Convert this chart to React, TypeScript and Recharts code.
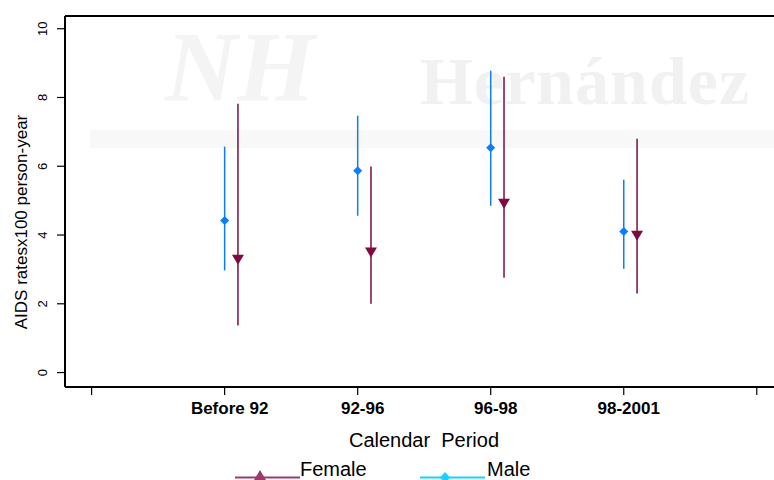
import { ScatterChart, Scatter, XAxis, YAxis, ErrorBar, ReferenceLine } from 'recharts'

const categories = ['Before 92', '92-96', '96-98', '98-2001']
const catPos = [1, 2, 3, 4]
const xTicks = [0, 1, 2, 3, 4, 5]
const yTicks = [0, 2, 4, 6, 8, 10]

const maleRate = [4.42, 5.87, 6.54, 4.1]
const maleLow = [2.97, 4.56, 4.85, 3.02]
const maleHigh = [6.57, 7.47, 8.78, 5.61]

const femaleRate = [3.28, 3.49, 4.91, 3.98]
const femaleLow = [1.37, 2.0, 2.76, 2.3]
const femaleHigh = [7.82, 5.99, 8.6, 6.8]
const femaleShift = 0.1

const MALE = '#0a7dff'
const FEMALE = '#7e0a42'
const FONT = '"Liberation Sans", Arial, sans-serif'

const maleData = catPos.map((p, i) => ({
  x: p,
  y: maleRate[i],
  err: [maleRate[i] - maleLow[i], maleHigh[i] - maleRate[i]],
}))
const femaleData = catPos.map((p, i) => ({
  x: p + femaleShift,
  y: femaleRate[i],
  err: [femaleRate[i] - femaleLow[i], femaleHigh[i] - femaleRate[i]],
}))

function Diamond(props: any) {
  const { cx, cy } = props
  const r = 4.5
  return <polygon points={`${cx},${cy - r} ${cx + r},${cy} ${cx},${cy + r} ${cx - r},${cy}`} fill={MALE} />
}

function TriDown(props: any) {
  const { cx, cy } = props
  return <polygon points={`${cx - 6},${cy - 5} ${cx + 6},${cy - 5} ${cx},${cy + 5}`} fill={FEMALE} />
}

function XTick(props: any) {
  const { x, y, payload } = props
  const idx = catPos.indexOf(payload.value)
  if (idx < 0) return null
  return (
    <text x={x + 5} y={y + 17} textAnchor="middle" fontFamily={FONT} fontWeight="bold" fontSize={17} fill="#000">
      {categories[idx]}
    </text>
  )
}

function YTick(props: any) {
  const { y, payload } = props
  return (
    <text x={47} y={y} transform={`rotate(-90, 47, ${y})`} textAnchor="middle" fontFamily={FONT} fontSize={13} fill="#000">
      {payload.value}
    </text>
  )
}

// faint logo watermark behind the plot
function Watermark() {
  return (
    <svg width={774} height={480} style={{ position: 'absolute', left: 0, top: 0 }}>
      <rect x={90} y={130} width={684} height={18} fill="#f8f8f8" />
      <text x={420} y={104} fontFamily='"Liberation Serif", serif' fontWeight="bold" fontSize={68} fill="#f1f1f1" letterSpacing={1}>
        Hernández
      </text>
      <text x={165} y={100} fontFamily='"Liberation Serif", serif' fontWeight="bold" fontStyle="italic" fontSize={100} fill="#f4f4f4">
        NH
      </text>
    </svg>
  )
}

function Overlay() {
  return (
    <svg width={774} height={480} style={{ position: 'absolute', left: 0, top: 0, pointerEvents: 'none' }}>
      <text x={27} y={222} transform="rotate(-90, 27, 222)" textAnchor="middle" fontFamily={FONT} fontSize={17} fill="#000">
        AIDS ratesx100 person-year
      </text>
      <text x={424} y={447} textAnchor="middle" fontFamily={FONT} fontSize={20} fill="#000" style={{ whiteSpace: 'pre' }}>
        {'Calendar  Period'}
      </text>
      <line x1={235} y1={477.5} x2={300} y2={477.5} stroke="#9b3a6c" strokeWidth={2} />
      <polygon points="254,480 266,480 260,470" fill="#9b3a6c" />
      <text x={300} y={476} fontFamily={FONT} fontSize={20} fill="#000">
        Female
      </text>
      <line x1={420} y1={477.5} x2={485} y2={477.5} stroke="#1ccfff" strokeWidth={2} />
      <polygon points="445,472 450,477.5 445,483 440,477.5" fill="#1ccfff" />
      <text x={487} y={476} fontFamily={FONT} fontSize={20} fill="#000">
        Male
      </text>
    </svg>
  )
}

export default function App() {
  return (
    <div style={{ position: 'absolute', left: 0, top: 0, width: 774, height: 480, overflow: 'hidden', background: '#fff' }}>
      <Watermark />
      <div style={{ position: 'absolute', left: 0, top: 0 }}>
        <ScatterChart width={810} height={480} margin={{ top: 16, right: 0, bottom: 33, left: 0 }}>
          <XAxis
            type="number"
            dataKey="x"
            domain={[-0.2, 5.4]}
            ticks={xTicks}
            interval={0}
            allowDataOverflow
            height={60}
            tickSize={8}
            axisLine={{ stroke: '#000', strokeWidth: 2 }}
            tickLine={{ stroke: '#000', strokeWidth: 1.2 }}
            tick={<XTick />}
          />
          <YAxis
            type="number"
            dataKey="y"
            domain={[-0.42, 10.37]}
            ticks={yTicks}
            interval={0}
            allowDataOverflow
            width={65}
            tickSize={8}
            axisLine={{ stroke: '#000', strokeWidth: 2 }}
            tickLine={{ stroke: '#000', strokeWidth: 1.2 }}
            tick={<YTick />}
          />
          <ReferenceLine y={10.37} stroke="#000" strokeWidth={2} ifOverflow="visible" />
          <Scatter data={maleData} shape={<Diamond />} isAnimationActive={false}>
            <ErrorBar dataKey="err" direction="y" width={0} stroke={MALE} strokeWidth={1.5} isAnimationActive={false} />
          </Scatter>
          <Scatter data={femaleData} shape={<TriDown />} isAnimationActive={false}>
            <ErrorBar dataKey="err" direction="y" width={0} stroke={FEMALE} strokeWidth={1.5} isAnimationActive={false} />
          </Scatter>
        </ScatterChart>
      </div>
      <Overlay />
    </div>
  )
}
